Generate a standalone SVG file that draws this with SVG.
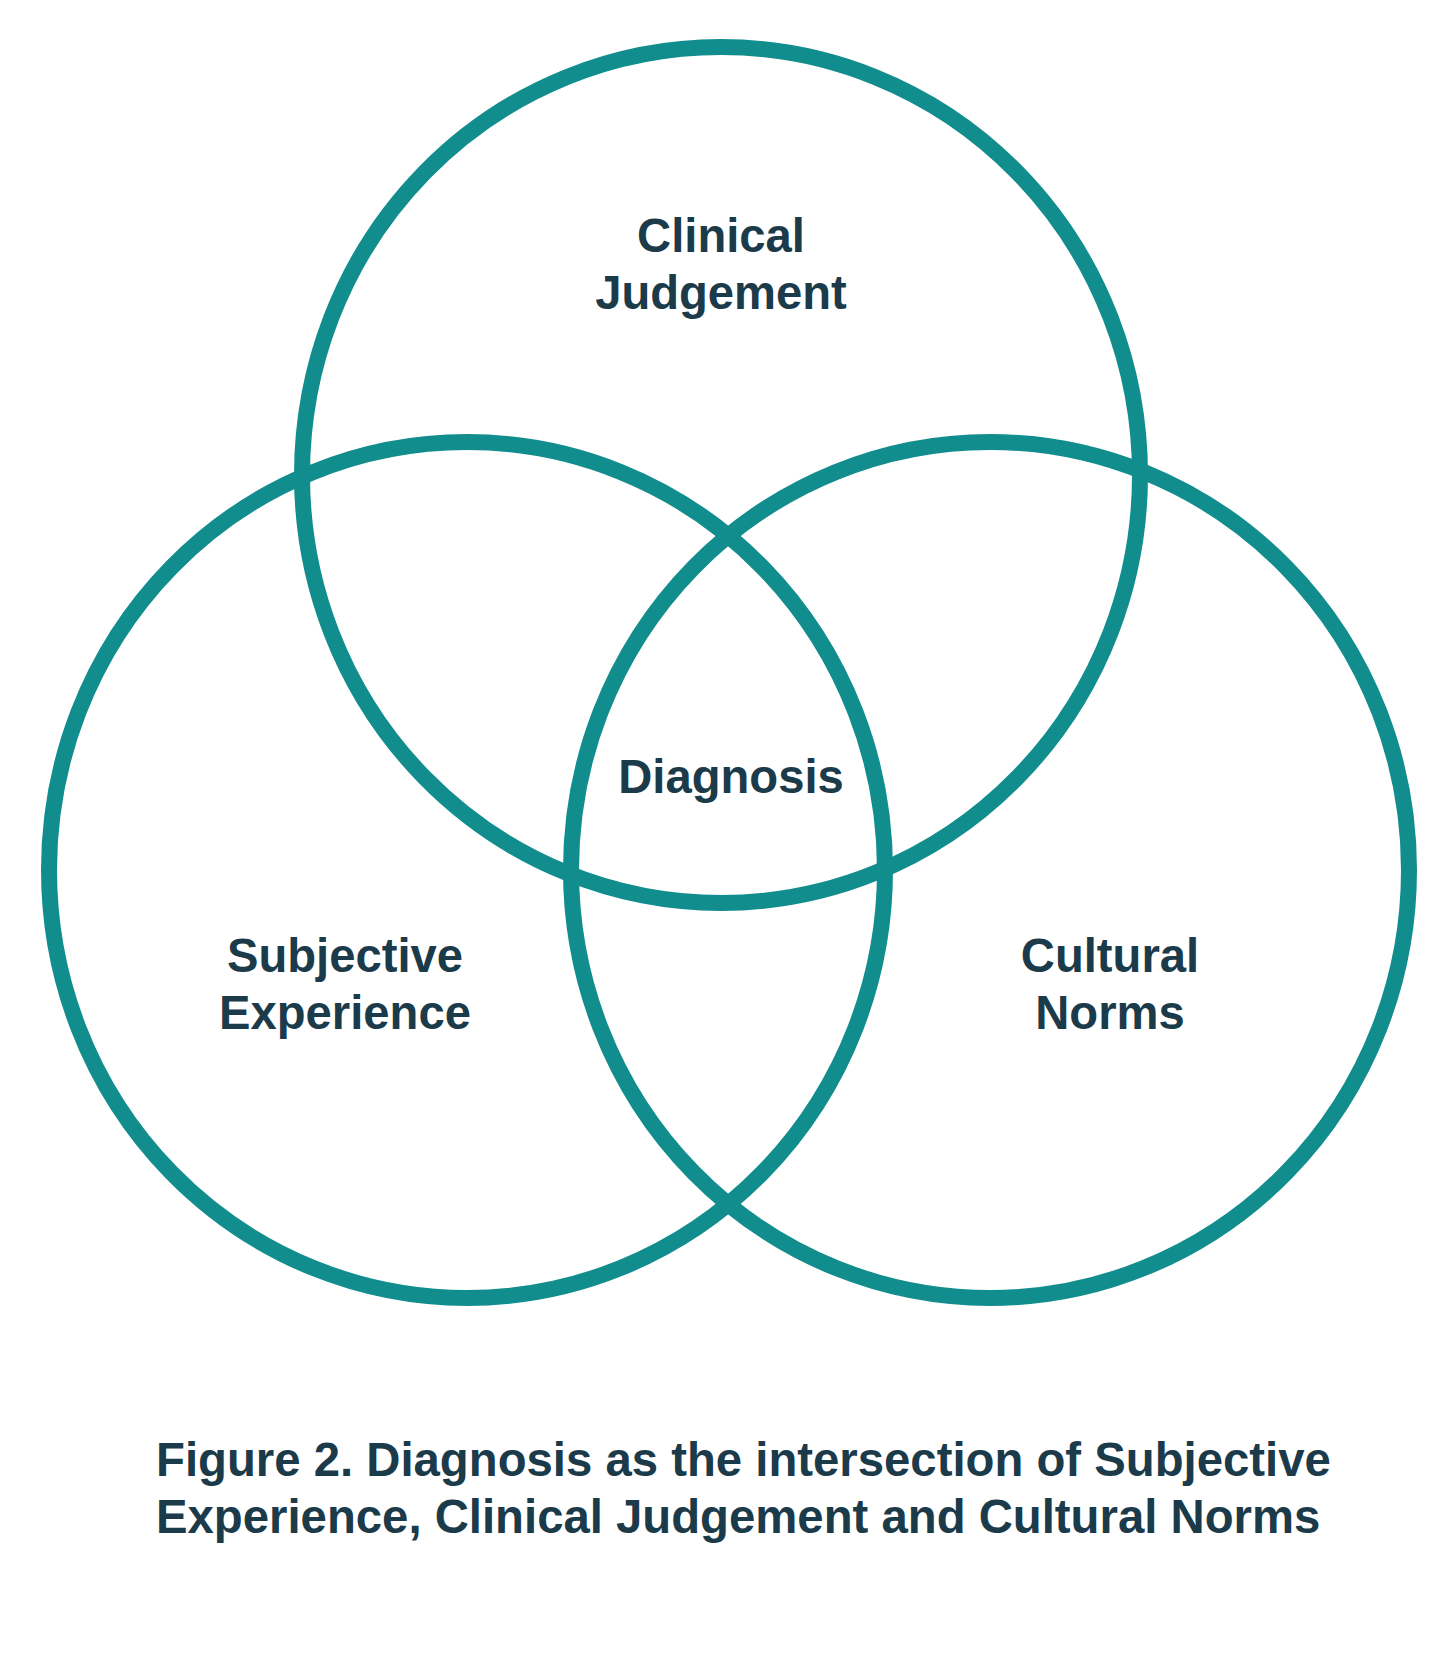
<svg xmlns="http://www.w3.org/2000/svg" width="1456" height="1669" viewBox="0 0 1456 1669">
<style>
.ring{fill:none;stroke:#128D8D;stroke-width:16}
.lbl{font-family:"Liberation Sans",Arial,sans-serif;font-weight:bold;font-size:47.2px;fill:#1B3A4A;text-anchor:middle}
.cap{font-family:"Liberation Sans",Arial,sans-serif;font-weight:bold;font-size:47.3px;fill:#1B3A4A}
</style>
<rect width="1456" height="1669" fill="#ffffff"/>
<g id="connectors"></g>
<g id="clinical">
<ellipse class="ring" cx="721" cy="475" rx="419" ry="428"/>
<text class="lbl" x="721" y="252">Clinical</text>
<text class="lbl" x="721" y="309">Judgement</text>
</g>
<g id="subjective">
<ellipse class="ring" cx="467" cy="870" rx="418" ry="428"/>
<text class="lbl" x="345" y="972">Subjective</text>
<text class="lbl" x="345" y="1029">Experience</text>
</g>
<g id="cultural">
<ellipse class="ring" cx="990" cy="870" rx="419" ry="428"/>
<text class="lbl" x="1110" y="972">Cultural</text>
<text class="lbl" x="1110" y="1029">Norms</text>
</g>
<g id="diagnosis">
<text class="lbl" x="731" y="793">Diagnosis</text>
</g>
<g id="caption">
<text class="cap" x="156" y="1476">Figure 2. Diagnosis as the intersection of Subjective</text>
<text class="cap" x="156" y="1533">Experience, Clinical Judgement and Cultural Norms</text>
</g>
</svg>
